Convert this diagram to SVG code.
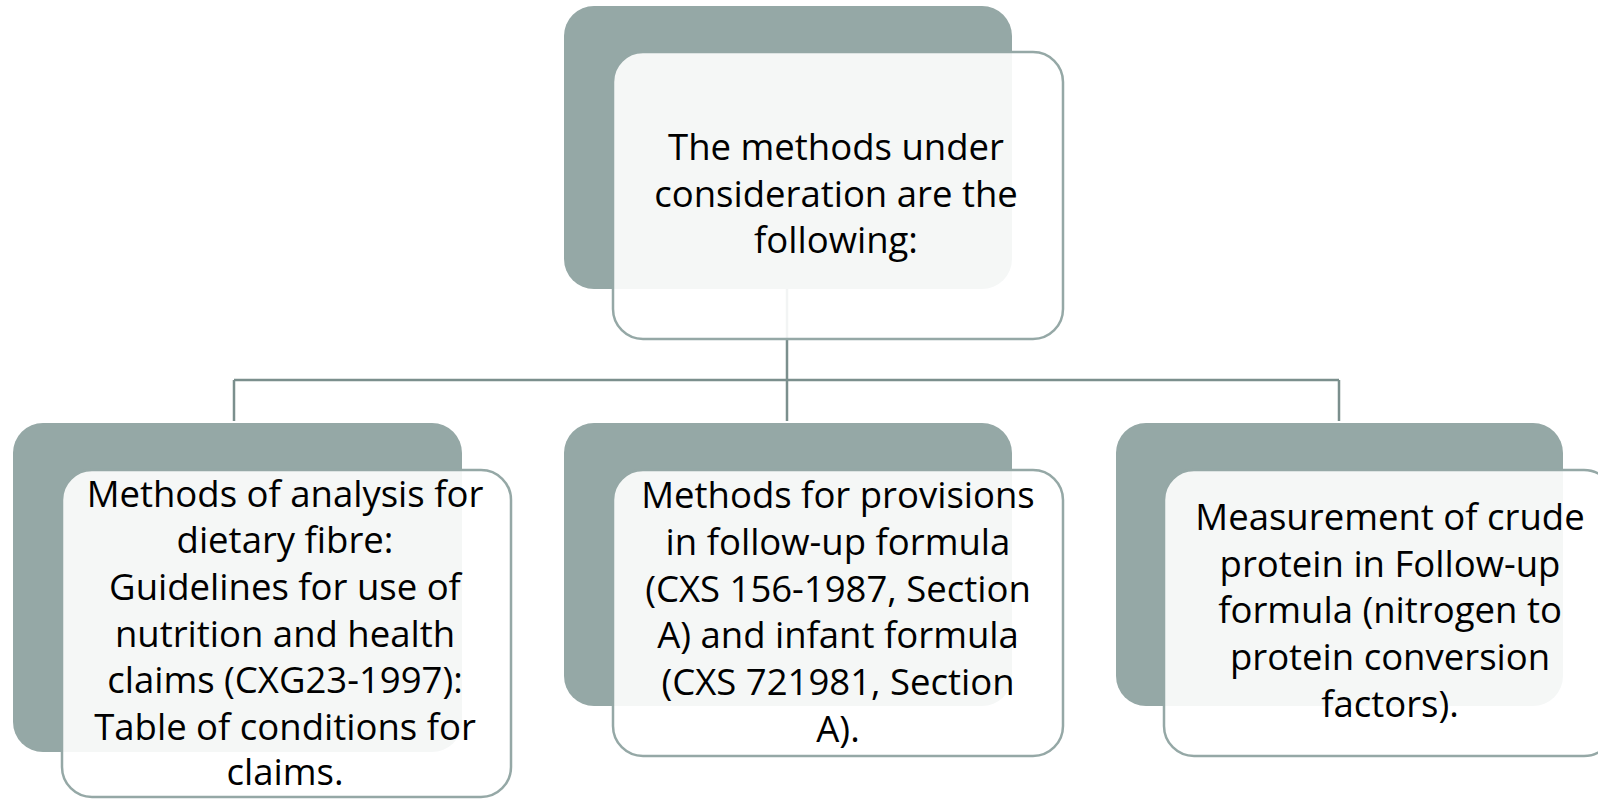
<svg xmlns="http://www.w3.org/2000/svg" width="1598" height="799" viewBox="0 0 1598 799">
<style>
.back{fill:#95a8a6}
.front{fill:#ffffff;fill-opacity:0.9;stroke:#95a8a6;stroke-width:2.5}
.conn{fill:none;stroke:#7b8f8d;stroke-width:2.5}
.t{font-family:"Open Sans",Lato,"Liberation Sans",sans-serif;font-size:36.5px;fill:#000;text-anchor:middle}
</style>
<rect width="1598" height="799" fill="#ffffff"/>
<g id="top">
<rect class="back" x="564" y="6" width="448" height="283" rx="30"/>
</g>
<g id="connectors">
<path class="conn" d="M787 289V380M234 380H1339M234 380V421M787 380V421M1339 380V421"/>
</g>
<g id="top-front">
<rect class="front" x="613" y="52" width="450" height="287" rx="30"/>
<text class="t"><tspan x="836" y="160">The methods under</tspan><tspan x="836" y="207">consideration are the</tspan><tspan x="836" y="253">following:</tspan></text>
</g>
<g id="left">
<rect class="back" x="13" y="423" width="449" height="329" rx="30"/>
<rect class="front" x="62" y="470" width="449" height="327" rx="30"/>
<text class="t"><tspan x="285" y="507">Methods of analysis for</tspan><tspan x="285" y="553">dietary fibre:</tspan><tspan x="285" y="600">Guidelines for use of</tspan><tspan x="285" y="647">nutrition and health</tspan><tspan x="285" y="693">claims (CXG23-1997):</tspan><tspan x="285" y="740">Table of conditions for</tspan><tspan x="285" y="785">claims.</tspan></text>
</g>
<g id="middle">
<rect class="back" x="564" y="423" width="448" height="283" rx="30"/>
<rect class="front" x="613" y="470" width="450" height="286" rx="30"/>
<text class="t"><tspan x="838" y="508">Methods for provisions</tspan><tspan x="838" y="555">in follow-up formula</tspan><tspan x="838" y="602">(CXS 156-1987, Section</tspan><tspan x="838" y="648">A) and infant formula</tspan><tspan x="838" y="695">(CXS 721981, Section</tspan><tspan x="838" y="742">A).</tspan></text>
</g>
<g id="right">
<rect class="back" x="1116" y="423" width="447" height="283" rx="30"/>
<rect class="front" x="1164" y="470" width="450" height="286" rx="30"/>
<text class="t"><tspan x="1390" y="530">Measurement of crude</tspan><tspan x="1390" y="577">protein in Follow-up</tspan><tspan x="1390" y="623">formula (nitrogen to</tspan><tspan x="1390" y="670">protein conversion</tspan><tspan x="1390" y="717">factors).</tspan></text>
</g>
</svg>
